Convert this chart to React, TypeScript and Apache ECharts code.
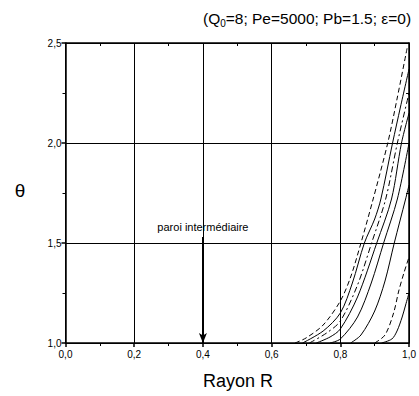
import React, { useEffect, useRef } from "react";
import * as echarts from "echarts";

const xTicks = [0, 0.2, 0.4, 0.6, 0.8, 1.0];
const yTicks = [1.0, 1.5, 2.0, 2.5];

const curveA: [number, number][] = [[0.668, 1.0], [0.70, 1.025], [0.75, 1.09], [0.80, 1.21], [0.83, 1.33], [0.86, 1.5], [0.894, 1.71], [0.938, 2.0], [0.965, 2.22], [0.995, 2.48]];
const curveB: [number, number][] = [[0.69, 1.0], [0.75, 1.06], [0.80, 1.15], [0.835, 1.3], [0.87, 1.5], [0.9, 1.62], [0.918, 1.72], [0.952, 2.0], [0.975, 2.18], [1.0, 2.37]];
const curveC: [number, number][] = [[0.71, 1.0], [0.76, 1.05], [0.80, 1.11], [0.85, 1.29], [0.891, 1.5], [0.932, 1.72], [0.966, 2.0], [1.0, 2.25]];
const curveD: [number, number][] = [[0.73, 1.0], [0.77, 1.03], [0.80, 1.07], [0.85, 1.23], [0.906, 1.5], [0.949, 1.72], [0.978, 2.0], [1.0, 2.15]];
const curveE: [number, number][] = [[0.77, 1.0], [0.80, 1.02], [0.85, 1.13], [0.89, 1.3], [0.926, 1.5], [0.966, 1.72], [1.0, 2.0]];
const curveH: [number, number][] = [[0.83, 1.0], [0.86, 1.04], [0.9, 1.16], [0.93, 1.31], [0.957, 1.5], [0.99, 1.72], [1.0, 1.79]];
const curveF: [number, number][] = [[0.90, 1.0], [0.93, 1.04], [0.955, 1.15], [0.97, 1.26], [0.985, 1.35], [1.0, 1.43]];
const curveG: [number, number][] = [[0.92, 1.0], [0.95, 1.02], [0.965, 1.06], [0.98, 1.13], [0.99, 1.19], [1.0, 1.25]];

const wallR = 0.4;
const wallTop = 1.53;
const wallLabel = "paroi intermédiaire";

const FONT = "Liberation Sans, Arial, sans-serif";

function fmt(v: number) {
  return v.toFixed(1).replace(".", ",");
}

export default function App() {
  const ref = useRef<HTMLDivElement>(null);
  useEffect(() => {
    if (!ref.current) return;
    const chart = echarts.init(ref.current, null, { renderer: "svg" });
    const dash = [5, 3];
    const dashDot = [6, 3, 2, 3];
    const mk = (name: string, data: [number, number][], type: any) => ({
      name,
      type: "line",
      data,
      showSymbol: false,
      smooth: 0.3,
      lineStyle: { color: "#000", width: 1, type },
      z: 3,
    });
    const seriesList: any[] = [
      mk("A", curveA, dash),
      mk("B", curveB, "solid"),
      mk("C", curveC, dashDot),
      mk("D", curveD, "solid"),
      mk("E", curveE, "solid"),
      mk("H", curveH, "solid"),
      mk("F", curveF, dash),
      mk("G", curveG, "solid"),
    ];
    seriesList[0].markLine = {
      silent: true,
      symbol: ["none", "arrow"],
      symbolSize: [6, 10],
      lineStyle: { color: "#000", width: 2, type: "solid" },
      label: {
        show: true,
        position: "start",
        formatter: wallLabel,
        fontSize: 11,
        fontFamily: FONT,
        color: "#000",
        distance: 5,
      },
      data: [[{ coord: [wallR, wallTop] }, { coord: [wallR, 1.0] }]],
    };
    chart.setOption({
      animation: false,
      textStyle: { fontFamily: FONT },
      grid: { left: 65.5, right: 7.5, top: 43, bottom: 53 },
      xAxis: [
        {
          type: "value",
          min: xTicks[0],
          max: xTicks[xTicks.length - 1],
          interval: 0.2,
          axisLine: { lineStyle: { color: "#000", width: 1.5 } },
          axisTick: { show: true, inside: false, length: 4, lineStyle: { color: "#000", width: 1.5 } },
          minorTick: { show: true, splitNumber: 2, length: 3, lineStyle: { color: "#000", width: 1 } },
          splitLine: { show: true, lineStyle: { color: "#000", width: 1 } },
          axisLabel: { formatter: fmt, fontSize: 10, color: "#000", margin: 6, fontFamily: FONT },
        },
        {
          type: "value",
          position: "top",
          min: 0,
          max: 1,
          interval: 0.1,
          axisLine: { show: true, onZero: false, lineStyle: { color: "#000", width: 1.5 } },
          axisTick: { show: true, inside: true, length: 3, lineStyle: { color: "#000", width: 1 } },
          axisLabel: { show: false },
          splitLine: { show: false },
        },
      ],
      yAxis: [
        {
          type: "value",
          min: yTicks[0],
          max: yTicks[yTicks.length - 1],
          interval: 0.5,
          axisLine: { show: true, lineStyle: { color: "#000", width: 1.5 } },
          axisTick: { show: true, inside: false, length: 4, lineStyle: { color: "#000", width: 1.5 } },
          minorTick: { show: true, splitNumber: 2, length: 3, lineStyle: { color: "#000", width: 1 } },
          splitLine: { show: true, lineStyle: { color: "#000", width: 1 } },
          axisLabel: { formatter: fmt, fontSize: 10, color: "#000", margin: 4, fontFamily: FONT },
        },
        {
          type: "value",
          position: "right",
          min: 1,
          max: 2.5,
          interval: 0.25,
          axisLine: { show: true, onZero: false, lineStyle: { color: "#000", width: 1.5 } },
          axisTick: { show: true, inside: true, length: 3, lineStyle: { color: "#000", width: 1 } },
          axisLabel: { show: false },
          splitLine: { show: false },
        },
      ],
      graphic: [
        {
          type: "text",
          x: 307,
          y: 18,
          style: {
            text: "(Q{sub|0}=8; Pe=5000; Pb=1.5; ε=0)",
            font: `15.5px ${FONT}`,
            fill: "#000",
            align: "center",
            verticalAlign: "middle",
            rich: {
              sub: { fontSize: 10, fontFamily: FONT, padding: [11, 0, 0, 0], fill: "#000" },
            },
          },
        },
        {
          type: "text",
          x: 238,
          y: 381,
          style: { text: "Rayon R", font: `18px ${FONT}`, fill: "#000", align: "center", verticalAlign: "middle" },
        },
        {
          type: "text",
          x: 20,
          y: 190,
          style: { text: "θ", font: `19px ${FONT}`, fill: "#000", align: "center", verticalAlign: "middle" },
        },
      ],
      series: seriesList,
    });
    return () => chart.dispose();
  }, []);
  return <div ref={ref} style={{ width: 419, height: 396, position: "absolute", left: 0, top: 0 }} />;
}
